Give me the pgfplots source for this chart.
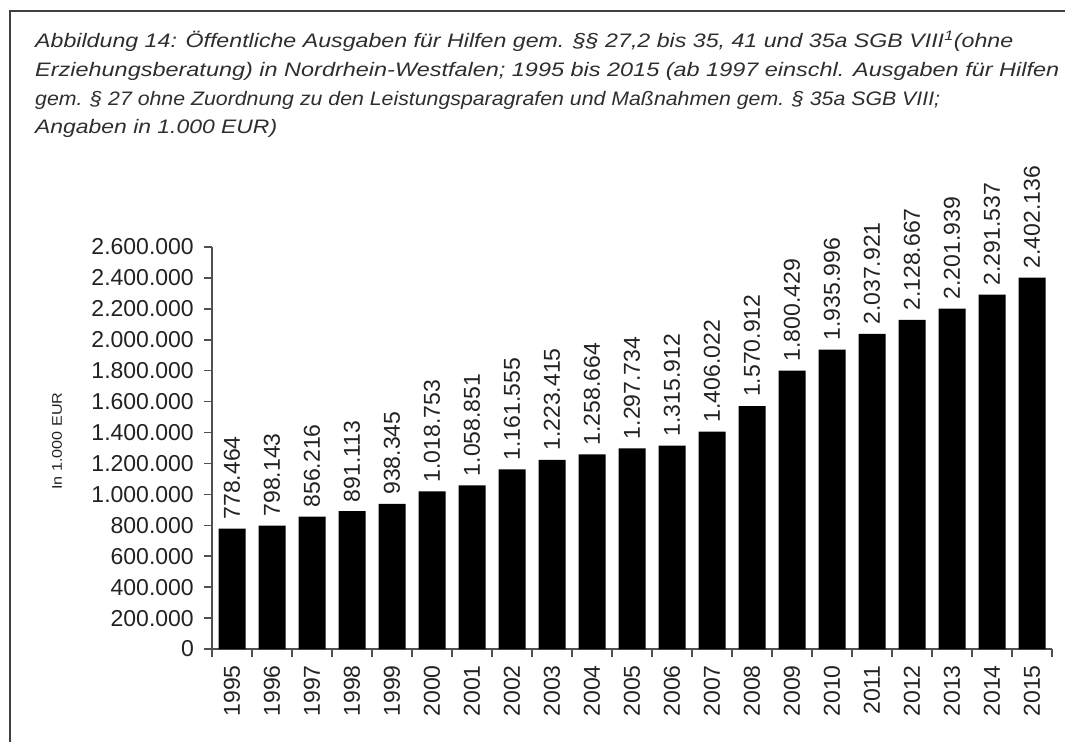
\documentclass[border=0pt]{standalone}
\usepackage{pgfplots}
\usepackage{pgfplotstable}
\pgfplotsset{compat=1.18}
\usepackage{fontspec}
\setmainfont{Liberation Sans}
\usepackage{graphicx}
\definecolor{txt}{HTML}{222222}
\definecolor{titlecol}{HTML}{2E2E2E}
\definecolor{axisgray}{HTML}{505050}
\definecolor{framegray}{HTML}{404040}

\pgfplotstableread{
x val label
0 778464 778.464
1 798143 798.143
2 856216 856.216
3 891113 891.113
4 938345 938.345
5 1018753 1.018.753
6 1058851 1.058.851
7 1161555 1.161.555
8 1223415 1.223.415
9 1258664 1.258.664
10 1297734 1.297.734
11 1315912 1.315.912
12 1406022 1.406.022
13 1570912 1.570.912
14 1800429 1.800.429
15 1935996 1.935.996
16 2037921 2.037.921
17 2128667 2.128.667
18 2201939 2.201.939
19 2291537 2.291.537
20 2402136 2.402.136
}\data

\begin{document}
\begin{tikzpicture}[x=1bp,y=1bp]
\useasboundingbox (0,0) rectangle (1065,-742);
\draw[framegray, line width=2bp] (10,-742) -- (10,-11.5) -- (1065,-11.5);

\begin{scope}[every node/.style={anchor=base west, inner sep=0pt, text=titlecol,
  font=\fontsize{19.5bp}{22bp}\selectfont\itshape}]
\node at (35,-47.5) {\resizebox{978bp}{\height}{Abbildung 14: Öffentliche Ausgaben für Hilfen gem. §§ 27,2 bis 35, 41 und 35a SGB VIII\textsuperscript{1}(ohne}};
\node at (35,-76.3) {\resizebox{1024bp}{\height}{Erziehungsberatung) in Nordrhein-Westfalen; 1995 bis 2015 (ab 1997 einschl. Ausgaben für Hilfen}};
\node at (35,-105.1) {\resizebox{905bp}{\height}{gem. § 27 ohne Zuordnung zu den Leistungsparagrafen und Maßnahmen gem. § 35a SGB VIII;}};
\node at (35,-133.9) {\resizebox{242bp}{\height}{Angaben in 1.000 EUR)}};
\end{scope}

\node[rotate=90, inner sep=0pt, text=txt, font=\fontsize{14bp}{16bp}\selectfont] at (57,-441) {\resizebox{97bp}{\height}{In 1.000 EUR}};

\begin{axis}[
  at={(212bp,-649bp)}, anchor=south west,
  scale only axis, width=840bp, height=402bp,
  xmin=-0.5, xmax=20.5, ymin=0, ymax=2600000,
  axis x line*=bottom, axis y line*=left,
  axis line style={draw=axisgray, line width=1.6bp},
  tick align=outside,
  major tick length=8bp,
  tick style={draw=axisgray, line width=1.5bp},
  xtick={-0.5,0.5,...,20.5},
  x tick label as interval,
  xticklabels={1995,1996,1997,1998,1999,2000,2001,2002,2003,2004,2005,2006,2007,2008,2009,2010,2011,2012,2013,2014,2015},
  ytick={0,200000,400000,600000,800000,1000000,1200000,1400000,1600000,1800000,2000000,2200000,2400000,2600000},
  yticklabels={0,200.000,400.000,600.000,800.000,1.000.000,1.200.000,1.400.000,1.600.000,1.800.000,2.000.000,2.200.000,2.400.000,2.600.000},
  scaled y ticks=false,
  /pgf/number format/assume math mode=true,
  xticklabel style={rotate=90, anchor=east, inner sep=0pt, xshift=-8bp, text=txt,
    font=\fontsize{23bp}{25bp}\selectfont},
  yticklabel style={anchor=east, inner sep=0pt, xshift=-10bp, text=txt,
    font=\fontsize{23bp}{25bp}\selectfont},
  point meta=explicit symbolic,
  nodes near coords,
  every node near coord/.append style={rotate=90, anchor=west, inner xsep=9bp, inner ysep=0pt,
    text=txt, font=\fontsize{23bp}{25bp}\selectfont},
  clip=false,
]
\addplot[ybar, bar width=27bp, fill=black, draw=none] table[x=x, y=val, meta=label] {\data};
\end{axis}
\end{tikzpicture}
\end{document}
